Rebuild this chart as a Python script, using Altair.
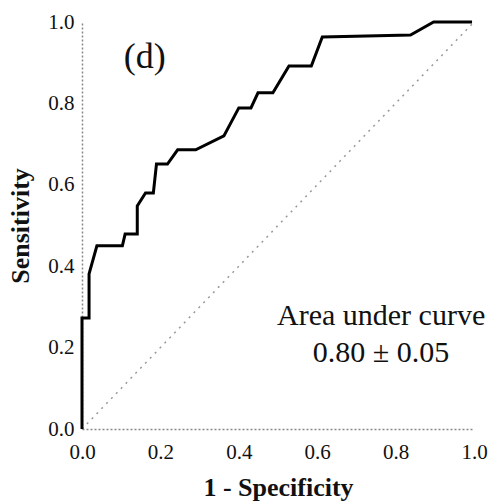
import altair as alt
import pandas as pd

# ROC curve
fpr = [0.0, 0.0, 0.018, 0.018, 0.038, 0.103, 0.110, 0.141, 0.141, 0.162, 0.182,
       0.190, 0.218, 0.244, 0.290, 0.362, 0.400, 0.431, 0.449, 0.487, 0.528,
       0.585, 0.613, 0.838, 0.897, 0.995]
tpr = [0.0, 0.273, 0.273, 0.381, 0.450, 0.450, 0.479, 0.479, 0.548, 0.580, 0.580,
       0.651, 0.651, 0.686, 0.686, 0.720, 0.789, 0.789, 0.826, 0.826, 0.892,
       0.892, 0.963, 0.968, 1.0, 1.0]
diag = [0.0, 1.0]
tick_values = [0.0, 0.2, 0.4, 0.6, 0.8, 1.0]

annot_text = ["(d)", "Area under curve", "0.80 \u00b1 0.05"]
annot_x = [0.16, 0.763, 0.763]
annot_y = [0.887, 0.256, 0.165]
annot_size = [36, 30, 30]

roc = pd.DataFrame({"x": fpr, "y": tpr, "o": list(range(len(fpr)))})
dg = pd.DataFrame({"x": diag, "y": diag})
ann = pd.DataFrame({"t": annot_text, "x": annot_x, "y": annot_y, "s": annot_size})

FONT = "Liberation Serif"

xs = alt.Scale(domain=[0, 1], nice=False)
ys = alt.Scale(domain=[0, 1], nice=False)

xaxis = alt.Axis(values=tick_values, format=".1f", grid=False, ticks=False,
                 domainColor="#888888", domainDash=[2, 2], domainWidth=1.5,
                 labelFont=FONT, labelFontSize=21, labelColor="#111111", labelPadding=12,
                 labelFlush=False,
                 title="1 - Specificity", titleFont=FONT, titleFontSize=26,
                 titleFontWeight="bold", titleColor="#111111",
                 titleBaseline="alphabetic", titleY=66)
yaxis = alt.Axis(values=tick_values, format=".1f", grid=False, ticks=False,
                 domainColor="#888888", domainDash=[2, 2], domainWidth=1.5,
                 labelFont=FONT, labelFontSize=21, labelColor="#111111", labelPadding=8,
                 labelFlush=False,
                 title="Sensitivity", titleFont=FONT, titleFontSize=26,
                 titleFontWeight="bold", titleColor="#111111",
                 titleBaseline="alphabetic", titleX=-54, titleAngle=-90)

diag_line = alt.Chart(dg).mark_line(color="#999999", strokeDash=[2, 5], strokeWidth=1.5).encode(
    x=alt.X("x:Q", scale=xs, axis=xaxis),
    y=alt.Y("y:Q", scale=ys, axis=yaxis),
)

roc_line = alt.Chart(roc).mark_line(color="black", strokeWidth=3, strokeJoin="miter").encode(
    x=alt.X("x:Q", scale=xs),
    y=alt.Y("y:Q", scale=ys),
    order="o:Q",
)

texts = alt.Chart(ann).mark_text(font=FONT, color="#111111", baseline="alphabetic",
                                 align="center").encode(
    x=alt.X("x:Q", scale=xs),
    y=alt.Y("y:Q", scale=ys),
    text="t:N",
    size=alt.Size("s:Q", scale=None, legend=None),
)

chart = alt.layer(diag_line, roc_line, texts).properties(
    width=392, height=407,
    padding={"left": 82, "top": 22, "right": 17, "bottom": 72},
    autosize=alt.AutoSizeParams(type="none"),
    background="white",
).configure_view(stroke=None)

chart.save("out.html", embed_options={"renderer": "svg", "actions": False})
